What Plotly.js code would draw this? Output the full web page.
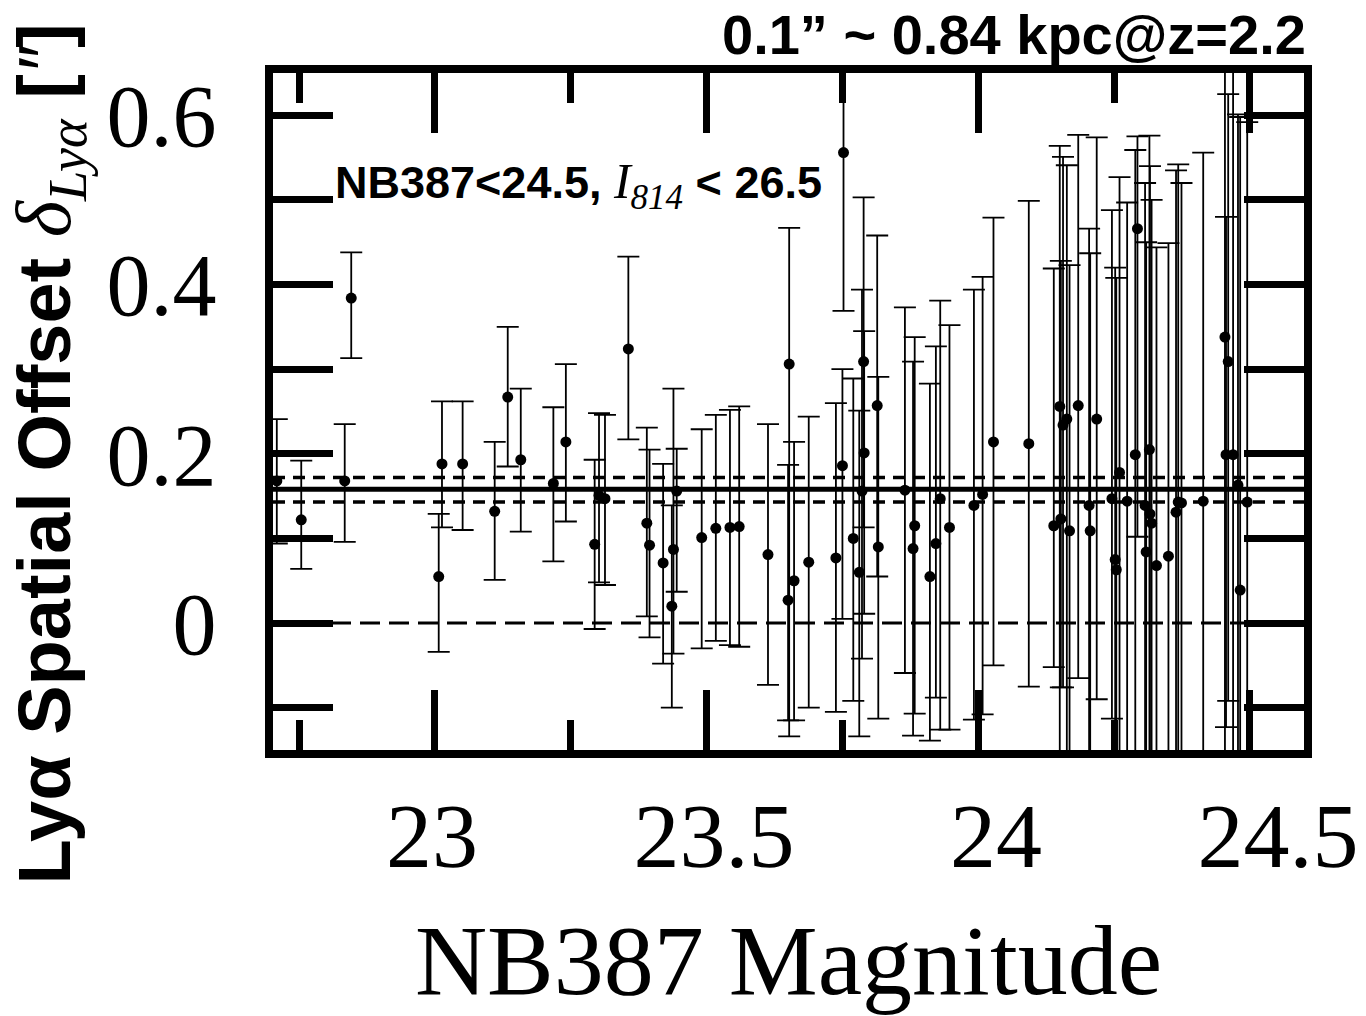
<!DOCTYPE html>
<html><head><meta charset="utf-8">
<script src="https://cdn.plot.ly/plotly-3.0.1.min.js"></script>
<style>html,body{margin:0;padding:0;background:#fff}</style>
</head><body>
<div id="chart" style="width:1366px;height:1016px"></div>
<script>
// NB387 magnitude of each object
const magnitude = [22.709,22.754,22.834,22.846,23.007,23.013,23.051,23.110,23.134,23.158,
  23.218,23.241,23.294,23.302,23.313,23.356,23.390,23.395,23.420,23.436,
  23.439,23.445,23.491,23.517,23.543,23.560,23.613,23.650,23.652,23.661,
  23.688,23.738,23.750,23.752,23.770,23.781,23.786,23.789,23.790,23.814,
  23.816,23.865,23.880,23.883,23.911,23.922,23.930,23.947,23.992,24.008,
  24.028,24.093,24.139,24.150,24.152,24.156,24.163,24.168,24.184,24.204,
  24.206,24.218,24.246,24.252,24.254,24.260,24.274,24.289,24.293,24.307,
  24.309,24.315,24.316,24.319,24.328,24.350,24.364,24.368,24.374,24.414,
  24.454,24.456,24.460,24.469,24.478,24.482,24.495];
// Lya spatial offset (arcsec)
const offset = [0.168,0.122,0.168,0.384,0.055,0.188,0.188,0.132,0.267,0.193,
  0.165,0.214,0.093,0.151,0.147,0.324,0.118,0.092,0.071,0.020,
  0.087,0.156,0.101,0.112,0.113,0.114,0.081,0.027,0.306,0.050,
  0.072,0.077,0.186,0.556,0.100,0.060,0.156,0.309,0.201,0.257,
  0.090,0.157,0.088,0.115,0.055,0.094,0.147,0.113,0.139,0.152,
  0.214,0.212,0.115,0.256,0.123,0.234,0.241,0.109,0.257,0.139,
  0.109,0.241,0.147,0.075,0.063,0.178,0.144,0.199,0.466,0.139,
  0.084,0.205,0.129,0.118,0.068,0.079,0.131,0.143,0.142,0.144,
  0.338,0.199,0.309,0.199,0.163,0.039,0.143];
// upper end of each error bar
const upperBound = [0.241,0.192,0.235,0.438,0.129,0.262,0.262,0.214,0.350,0.277,
  0.255,0.306,0.193,0.248,0.246,0.433,0.231,0.205,0.188,0.139,
  0.277,0.206,0.229,0.246,0.252,0.256,0.235,0.187,0.467,0.214,
  0.244,0.260,0.300,0.750,0.289,0.251,0.394,0.503,0.345,0.458,
  0.291,0.373,0.309,0.338,0.283,0.327,0.381,0.352,0.394,0.409,
  0.479,0.499,0.419,0.564,0.428,0.551,0.541,0.423,0.577,0.466,
  0.437,0.574,0.488,0.420,0.408,0.527,0.497,0.559,0.575,0.520,
  0.450,0.576,0.540,0.500,0.444,0.449,0.535,0.542,0.520,0.556,
  0.700,0.480,0.625,0.700,0.601,0.598,0.592];
// lower end of each error bar
const lowerBound = [0.094,0.064,0.096,0.313,-0.034,0.113,0.110,0.051,0.185,0.108,
  0.073,0.120,-0.007,0.048,0.045,0.217,0.008,-0.017,-0.048,-0.100,
  -0.036,0.037,-0.030,-0.021,-0.026,-0.028,-0.073,-0.115,-0.134,-0.115,
  -0.100,-0.105,0.005,0.369,-0.092,-0.134,-0.042,0.113,0.011,0.055,
  -0.113,-0.059,-0.133,-0.107,-0.139,-0.088,-0.126,-0.126,-0.114,-0.108,
  -0.050,-0.075,-0.052,-0.160,-0.076,-0.076,-0.160,-0.160,-0.065,-0.160,
  -0.160,-0.090,-0.113,-0.160,-0.160,-0.160,-0.160,-0.160,0.102,-0.160,
  -0.160,-0.160,-0.160,-0.160,-0.160,-0.160,-0.160,-0.160,-0.160,-0.160,
  -0.160,-0.123,-0.092,-0.160,-0.160,-0.160,-0.160];

const xTickVals = [23, 23.5, 24, 24.5];
const xTickText = ['23', '23.5', '24', '24.5'];
const xMinorVals = [22.75, 23.25, 23.75, 24.25];
const yTickVals = [0, 0.2, 0.4, 0.6];
const yTickText = ['0', '0.2', '0.4', '0.6'];
const yMinorVals = [-0.1, 0.1, 0.3, 0.5];
const meanOffset = 0.158;
const meanBand = [0.143, 0.172];
const zeroLevel = 0;

const errPlus = offset.map((v, i) => upperBound[i] - v);
const errMinus = offset.map((v, i) => v - lowerBound[i]);

const SERIF = "'Liberation Serif', 'DejaVu Serif', serif";
const SANS = "'Liberation Sans', Arial, sans-serif";

const traces = [
  {
    type: 'scatter', mode: 'markers',
    x: magnitude, y: offset,
    marker: {color: '#000', size: 11},
    error_y: {type: 'data', symmetric: false, array: errPlus, arrayminus: errMinus,
      color: '#000', thickness: 1.8, width: 11},
    hoverinfo: 'x+y', showlegend: false
  },
  {
    type: 'scatter', mode: 'markers',
    x: xTickVals, y: xTickVals.map(() => null),
    xaxis: 'x2', yaxis: 'y', hoverinfo: 'skip', showlegend: false
  }
];

const shapes = [
  {type: 'line', xref: 'paper', x0: 0, x1: 1, yref: 'y', y0: meanOffset, y1: meanOffset,
   line: {color: '#000', width: 5}},
  {type: 'line', xref: 'paper', x0: 0, x1: 1, yref: 'y', y0: meanBand[0], y1: meanBand[0],
   line: {color: '#000', width: 3.5, dash: '12px,8px'}},
  {type: 'line', xref: 'paper', x0: 0, x1: 1, yref: 'y', y0: meanBand[1], y1: meanBand[1],
   line: {color: '#000', width: 3.5, dash: '12px,8px'}},
  {type: 'line', xref: 'paper', x0: 0, x1: 1, yref: 'y', y0: zeroLevel, y1: zeroLevel,
   line: {color: '#000', width: 3, dash: '20px,9px'}}
];

const layout = {
  width: 1366, height: 1016,
  margin: {l: 273, r: 62, t: 73, b: 266, pad: 0},
  paper_bgcolor: '#fff', plot_bgcolor: '#fff',
  showlegend: false,
  title: {
    text: '<b>0.1\u201D ~ 0.84 kpc@z=2.2</b>',
    font: {family: SANS, size: 56, color: '#000'},
    x: 0.956, xanchor: 'right', xref: 'container',
    y: 0.966, yanchor: 'middle', yref: 'container'
  },
  xaxis: {
    range: [22.702, 24.5995], tickvals: xTickVals, showticklabels: false,
    ticks: 'inside', ticklen: 60, tickwidth: 7, tickcolor: '#000',
    minor: {tickvals: xMinorVals, ticks: 'inside', ticklen: 30, tickwidth: 7, tickcolor: '#000', showgrid: false},
    showline: true, linewidth: 8, linecolor: '#000', mirror: 'allticks',
    showgrid: false, zeroline: false
  },
  xaxis2: {
    overlaying: 'x', anchor: 'y', side: 'bottom',
    range: [22.718, 24.546], tickvals: xTickVals, ticktext: xTickText,
    ticks: '', showline: false, showgrid: false, zeroline: false,
    tickfont: {family: SERIF, size: 92, color: '#000'},
    ticklabelstandoff: 24,
    title: {text: 'NB387 Magnitude', font: {family: SERIF, size: 100, color: '#000'}, standoff: 56}
  },
  yaxis: {
    range: [-0.15, 0.65], tickvals: yTickVals, ticktext: yTickText,
    ticks: 'inside', ticklen: 60, tickwidth: 7, tickcolor: '#000',
    minor: {tickvals: yMinorVals, ticks: 'inside', ticklen: 30, tickwidth: 7, tickcolor: '#000', showgrid: false},
    showline: true, linewidth: 8, linecolor: '#000', mirror: 'allticks',
    showgrid: false, zeroline: false,
    tickfont: {family: SERIF, size: 88, color: '#000'},
    ticklabelstandoff: 31
  },
  shapes: shapes,
  annotations: [
    {
      xref: 'paper', yref: 'paper', x: 0.058, y: 0.835, xanchor: 'left', yanchor: 'middle',
      showarrow: false,
      font: {family: SANS, size: 45, color: '#000'},
      text: '<b>NB387&lt;24.5, </b><span style="font-family:\'Liberation Serif\';font-size:50px"><i>I<sub>814</sub></i></span><b> &lt; 26.5</b>'
    },
    {
      xref: 'paper', yref: 'paper', x: -0.217, y: 0.437, xanchor: 'center', yanchor: 'middle',
      showarrow: false, textangle: -90,
      font: {family: SANS, size: 74, color: '#000'},
      text: '<b>Ly\u03B1 Spatial Offset </b><span style="font-family:\'Liberation Serif\';font-size:78px"><i>\u03B4<sub>Ly\u03B1</sub></i></span><b> [</b><i>\u2033</i><b>]</b>'
    }
  ]
};

Plotly.newPlot('chart', traces, layout, {displayModeBar: false, staticPlot: true});
</script>
</body></html>
